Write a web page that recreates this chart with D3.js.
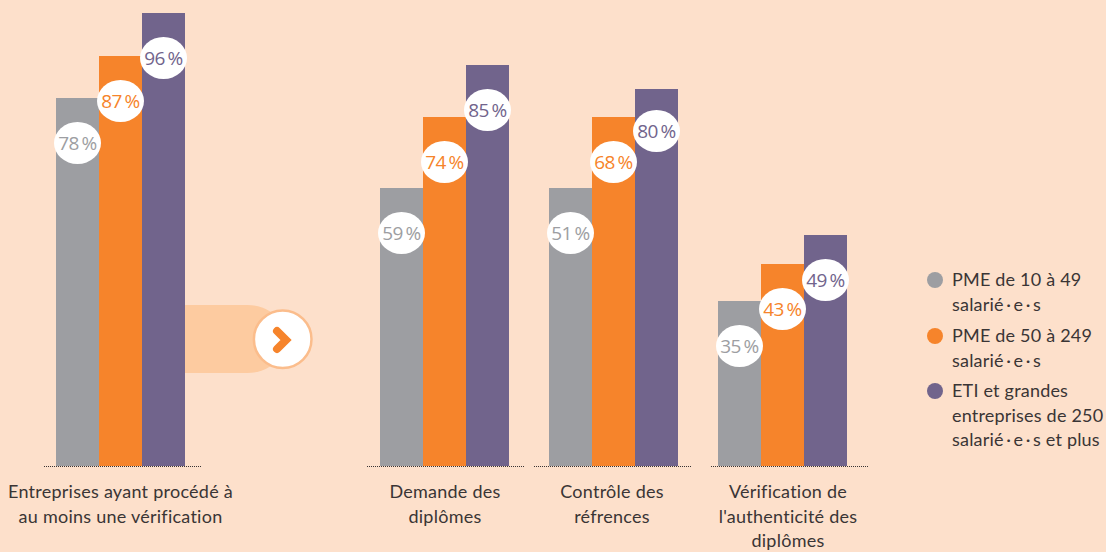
<!DOCTYPE html>
<html>
<head>
<meta charset="utf-8">
<script src="https://cdn.jsdelivr.net/npm/d3@7"></script>
<style>
  html, body { margin: 0; padding: 0; background: #fde0cb; }
  svg { display: block; }
  text { font-family: Lato, sans-serif; }
</style>
</head>
<body>
<svg></svg>
<script>
// Data
var categories = ['Entreprises', 'Demande', 'Controle', 'Authenticite'];
var categoryLabels = [
  ['Entreprises ayant procédé à', 'au moins une vérification'],
  ['Demande des', 'diplômes'],
  ['Contrôle des', 'réfrences'],
  ['Vérification de', "l'authenticité des", 'diplômes']
];
var series = ['PME de 10 à 49', 'PME de 50 à 249', 'ETI et grandes'];
var legendLabels = [
  ['PME de 10 à 49', 'salarié\u2009·\u2009e\u2009·\u2009s'],
  ['PME de 50 à 249', 'salarié\u2009·\u2009e\u2009·\u2009s'],
  ['ETI et grandes', 'entreprises de 250', 'salarié\u2009·\u2009e\u2009·\u2009s et plus']
];
var colors = ['#9d9ea2', '#f6842b', '#71648c'];
// bar heights as drawn (the third group is drawn taller than its printed labels)
var smallValues = [78, 59, 59, 35];
var midValues = [87, 74, 74, 43];
var largeValues = [96, 85, 80, 49];
// printed labels
var smallLabels = [78, 59, 51, 35];
var midLabels = [87, 74, 68, 43];
var largeLabels = [96, 85, 80, 49];

var width = 1106;
var height = 552;
var baseline = 466;

var svg = d3.select('svg')
  .attr('width', width)
  .attr('height', height);

svg.append('rect')
  .attr('width', width)
  .attr('height', height)
  .attr('fill', '#fde0cb');

var x0 = d3.scaleOrdinal()
  .domain(categories)
  .range([56, 380, 549, 718]);

var axisStart = d3.scaleOrdinal()
  .domain(categories)
  .range([44, 367, 534, 711]);

var x1 = d3.scaleBand()
  .domain(series)
  .range([0, 129]);

var y = d3.scaleLinear()
  .domain([0, 96])
  .range([baseline, 13]);

function barTop(d) {
  return Math.ceil(y(d.value));
}

var rows = [];
categories.forEach(function (c, i) {
  rows.push({ cat: c, s: 0, value: smallValues[i], label: smallLabels[i] });
  rows.push({ cat: c, s: 1, value: midValues[i], label: midLabels[i] });
  rows.push({ cat: c, s: 2, value: largeValues[i], label: largeLabels[i] });
});

// Arrow band behind the first group
var arrow = svg.append('g');
arrow.append('path')
  .attr('d', 'M185,305H247C262,305 272,311 283,322V356C272,367 262,373 247,373H185Z')
  .attr('fill', '#fdcba0');
arrow.append('circle')
  .attr('cx', 282.7)
  .attr('cy', 339.3)
  .attr('r', 28.8)
  .attr('fill', '#fff')
  .attr('stroke', '#fbbd8c')
  .attr('stroke-width', 2.5);
arrow.append('path')
  .attr('d', 'M277,331L286,340L277,349')
  .attr('fill', 'none')
  .attr('stroke', '#f6842b')
  .attr('stroke-width', 8)
  .attr('stroke-linecap', 'round')
  .attr('stroke-linejoin', 'miter');

// Bars
svg.selectAll('rect.bar')
  .data(rows)
  .enter().append('rect')
  .attr('class', 'bar')
  .attr('x', function (d) { return x0(d.cat) + x1(series[d.s]); })
  .attr('y', barTop)
  .attr('width', x1.bandwidth())
  .attr('height', function (d) { return baseline - barTop(d); })
  .attr('fill', function (d) { return colors[d.s]; });

// Dotted baselines
svg.selectAll('line.base')
  .data(categories)
  .enter().append('line')
  .attr('class', 'base')
  .attr('x1', function (d) { return axisStart(d); })
  .attr('x2', function (d) { return axisStart(d) + 157; })
  .attr('y1', baseline + 0.5)
  .attr('y2', baseline + 0.5)
  .attr('stroke', '#3a3535')
  .attr('stroke-dasharray', '1 1');

// Value bubbles
var bubbles = svg.selectAll('g.bubble')
  .data(rows)
  .enter().append('g')
  .attr('class', 'bubble')
  .attr('transform', function (d) {
    // the 80 % bubble sits a little higher on its bar
    var off = d.cat === 'Controle' && d.s === 2 ? 42 : 45;
    return 'translate(' + (x0(d.cat) + x1(series[d.s]) + x1.bandwidth() / 2) + ',' + (barTop(d) + off) + ')';
  });
bubbles.append('ellipse')
  .attr('rx', 23.5)
  .attr('ry', 21)
  .attr('fill', '#fff');
bubbles.append('text')
  .attr('text-anchor', 'middle')
  .attr('y', 7)
  .style('font-family', '"Open Sans", sans-serif')
  .style('font-size', '19px')
  .style('letter-spacing', '-0.5px')
  .attr('fill', function (d) { return colors[d.s]; })
  .text(function (d) { return d.label + '\u2009%'; });

// Category labels
var catCenter = [120.5, 445, 612, 788];
categoryLabels.forEach(function (lines, i) {
  svg.append('text')
    .attr('text-anchor', 'middle')
    .attr('fill', '#3a3535')
    .style('font-size', '18px')
    .style('letter-spacing', '0.25px')
    .selectAll('tspan')
    .data(lines)
    .enter().append('tspan')
    .attr('x', catCenter[i])
    .attr('y', function (d, j) { return 498 + j * 24.7; })
    .text(function (d) { return d; });
});

// Legend
var legendY = [280, 336, 391];
legendLabels.forEach(function (lines, i) {
  svg.append('circle')
    .attr('cx', 935)
    .attr('cy', legendY[i])
    .attr('r', 8)
    .attr('fill', colors[i]);
  svg.append('text')
    .attr('fill', '#3a3535')
    .style('font-size', '18px')
    .style('letter-spacing', '0.2px')
    .selectAll('tspan')
    .data(lines)
    .enter().append('tspan')
    .attr('x', 952)
    .attr('y', function (d, j) { return legendY[i] + 6 + j * 24.5; })
    .text(function (d) { return d; });
});
</script>
</body>
</html>
